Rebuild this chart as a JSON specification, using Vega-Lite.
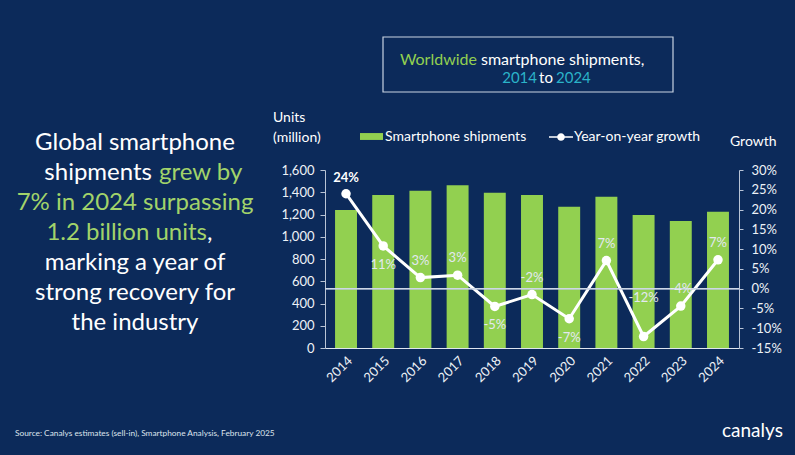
{
  "$schema": "https://vega.github.io/schema/vega-lite/v6.json",
  "autosize": "none",
  "width": 414,
  "height": 178,
  "padding": {"left": 325, "top": 170, "right": 56, "bottom": 107},
  "background": "#0c2a5a",
  "config": {
    "font": "Lato",
    "view": {"stroke": null},
    "axis": {"labelFont": "Lato", "labelColor": "#eef2f7", "labelFontSize": 13, "domainColor": "#b9c4d6", "tickColor": "#b9c4d6", "grid": false}
  },
  "datasets": {
    "ship": [
      {"year": "2014", "units": 1241, "growth": 24.0, "label": "24%", "pos": "bold"},
      {"year": "2015", "units": 1375, "growth": 10.8, "label": "11%", "pos": "below"},
      {"year": "2016", "units": 1414, "growth": 2.8, "label": "3%", "pos": "above"},
      {"year": "2017", "units": 1462, "growth": 3.4, "label": "3%", "pos": "above"},
      {"year": "2018", "units": 1396, "growth": -4.5, "label": "-5%", "pos": "below"},
      {"year": "2019", "units": 1375, "growth": -1.5, "label": "-2%", "pos": "above"},
      {"year": "2020", "units": 1270, "growth": -7.6, "label": "-7%", "pos": "below"},
      {"year": "2021", "units": 1360, "growth": 7.1, "label": "7%", "pos": "above"},
      {"year": "2022", "units": 1195, "growth": -12.1, "label": "-12%", "pos": "high"},
      {"year": "2023", "units": 1142, "growth": -4.4, "label": "-4%", "pos": "above"},
      {"year": "2024", "units": 1225, "growth": 7.3, "label": "7%", "pos": "above"}
    ]
  },
  "layer": [
    {
      "data": {"name": "ship"},
      "mark": {"type": "bar", "color": "#92d050"},
      "encoding": {
        "x": {
          "field": "year", "type": "ordinal", "title": null,
          "scale": {"paddingInner": 0.41, "paddingOuter": 0.27},
          "axis": {"title": null, "labelAngle": -45, "ticks": false, "labelPadding": 6, "domainColor": "#dfe5ee", "labelFontSize": 13}
        },
        "y": {"field": "units", "type": "quantitative", "scale": {"domain": [0, 1600]},
          "axis": {"title": null, "orient": "left", "values": [0, 200, 400, 600, 800, 1000, 1200, 1400, 1600], "format": ",.0f", "tickSize": 5, "labelPadding": 6}},
        "fill": {"datum": "Smartphone shipments", "type": "nominal", "scale": {"range": ["#92d050"]},
          "legend": {"title": null, "orient": "none", "legendX": 35, "legendY": -45, "symbolType": "M-1,-0.3H1V0.3H-1Z", "symbolSize": 529, "symbolStrokeWidth": 0, "labelColor": "#ffffff", "labelFontSize": 14, "labelFont": "Lato", "labelOffset": 2}}
      }
    },
    {
      "data": {"name": "ship"},
      "encoding": {
        "x": {"field": "year", "type": "ordinal", "title": null}
      },
      "layer": [
        {
          "mark": {"type": "line", "strokeWidth": 3},
          "encoding": {
            "y": {"field": "growth", "type": "quantitative", "title": null, "scale": {"domain": [-15, 30]},
              "axis": {"title": null, "orient": "right", "values": [-15, -10, -5, 0, 5, 10, 15, 20, 25, 30], "labelExpr": "datum.value + '%'", "tickSize": 4, "labelPadding": 8}},
            "stroke": {"datum": "Year-on-year growth", "type": "nominal", "scale": {"range": ["#ffffff"]},
              "legend": {"title": null, "orient": "none", "legendX": 224, "legendY": -45, "symbolType": "M-1,-0.07H1V0.07H-1Z M0.32,0A0.32,0.32 0 1 1 -0.32,0A0.32,0.32 0 1 1 0.32,0Z", "symbolSize": 576, "symbolFillColor": "#ffffff", "symbolStrokeWidth": 0, "labelColor": "#ffffff", "labelFontSize": 14, "labelFont": "Lato", "labelOffset": 1}}
          }
        },
        {
          "mark": {"type": "rule", "color": "#cfd8e6", "strokeWidth": 1, "opacity": 0.6},
          "encoding": {"y": {"datum": 0, "type": "quantitative", "title": null,
              "axis": {"title": null, "orient": "right", "values": [-15, -10, -5, 0, 5, 10, 15, 20, 25, 30], "labelExpr": "datum.value + '%'", "tickSize": 4, "labelPadding": 8}},
            "x": {"value": 0}, "x2": {"value": 414}}
        },
        {
          "mark": {"type": "point", "filled": true, "color": "#ffffff", "size": 90, "opacity": 1},
          "encoding": {"y": {"field": "growth", "type": "quantitative", "title": null,
              "axis": {"title": null, "orient": "right", "values": [-15, -10, -5, 0, 5, 10, 15, 20, 25, 30], "labelExpr": "datum.value + '%'", "tickSize": 4, "labelPadding": 8}}}
        },
        {
          "transform": [{"filter": "datum.pos === 'above'"}],
          "mark": {"type": "text", "dy": -17, "fontSize": 13, "color": "#e3e8f0"},
          "encoding": {"y": {"field": "growth", "type": "quantitative", "title": null,
              "axis": {"title": null, "orient": "right", "values": [-15, -10, -5, 0, 5, 10, 15, 20, 25, 30], "labelExpr": "datum.value + '%'", "tickSize": 4, "labelPadding": 8}}, "text": {"field": "label"}}
        },
        {
          "transform": [{"filter": "datum.pos === 'below'"}],
          "mark": {"type": "text", "dy": 19, "fontSize": 13, "color": "#e3e8f0"},
          "encoding": {"y": {"field": "growth", "type": "quantitative", "title": null,
              "axis": {"title": null, "orient": "right", "values": [-15, -10, -5, 0, 5, 10, 15, 20, 25, 30], "labelExpr": "datum.value + '%'", "tickSize": 4, "labelPadding": 8}}, "text": {"field": "label"}}
        },
        {
          "transform": [{"filter": "datum.pos === 'high'"}],
          "mark": {"type": "text", "dy": -39, "fontSize": 13, "color": "#e3e8f0"},
          "encoding": {"y": {"field": "growth", "type": "quantitative", "title": null,
              "axis": {"title": null, "orient": "right", "values": [-15, -10, -5, 0, 5, 10, 15, 20, 25, 30], "labelExpr": "datum.value + '%'", "tickSize": 4, "labelPadding": 8}}, "text": {"field": "label"}}
        },
        {
          "transform": [{"filter": "datum.pos === 'bold'"}],
          "mark": {"type": "text", "dy": -16, "fontSize": 13, "fontWeight": "bold", "color": "#ffffff"},
          "encoding": {"y": {"field": "growth", "type": "quantitative", "title": null,
              "axis": {"title": null, "orient": "right", "values": [-15, -10, -5, 0, 5, 10, 15, 20, 25, 30], "labelExpr": "datum.value + '%'", "tickSize": 4, "labelPadding": 8}}, "text": {"field": "label"}}
        }
      ]
    },
    {
      "data": {"values": [{"t": ["Units", "(million)"]}]},
      "mark": {"type": "text", "x": -52, "y": -52, "align": "left", "baseline": "middle", "fontSize": 14, "lineHeight": 20, "color": "#ffffff"},
      "encoding": {"text": {"field": "t"}}
    },
    {
      "data": {"values": [{"t": "Growth"}]},
      "mark": {"type": "text", "x": 405, "y": -28, "align": "left", "baseline": "middle", "fontSize": 14, "color": "#ffffff"},
      "encoding": {"text": {"field": "t"}}
    },
    {
      "data": {"values": [{"t": ""}]},
      "mark": {"type": "rect", "x": 58, "x2": 348, "y": -133, "y2": -78, "fill": null, "stroke": "#c9d3e2", "strokeWidth": 1.2},
      "encoding": {}
    },
    {
      "data": {"values": [{"t": "Worldwide"}]},
      "mark": {"type": "text", "x": 152, "y": -110, "align": "right", "baseline": "middle", "fontSize": 16, "color": "#92d050"},
      "encoding": {"text": {"field": "t"}}
    },
    {
      "data": {"values": [{"t": "smartphone shipments,"}]},
      "mark": {"type": "text", "x": 156, "y": -110, "align": "left", "baseline": "middle", "fontSize": 16, "color": "#ffffff"},
      "encoding": {"text": {"field": "t"}}
    },
    {
      "data": {"values": [{"t": "2014"}]},
      "mark": {"type": "text", "x": 212, "y": -92, "align": "right", "baseline": "middle", "fontSize": 15, "color": "#2bb3c9"},
      "encoding": {"text": {"field": "t"}}
    },
    {
      "data": {"values": [{"t": "to"}]},
      "mark": {"type": "text", "x": 221, "y": -92, "align": "center", "baseline": "middle", "fontSize": 15, "color": "#ffffff"},
      "encoding": {"text": {"field": "t"}}
    },
    {
      "data": {"values": [{"t": "2024"}]},
      "mark": {"type": "text", "x": 231, "y": -92, "align": "left", "baseline": "middle", "fontSize": 15, "color": "#2bb3c9"},
      "encoding": {"text": {"field": "t"}}
    },
    {
      "data": {"values": [{"t": "Global smartphone"}]},
      "mark": {"type": "text", "x": -190, "y": -27, "align": "center", "baseline": "middle", "fontSize": 24, "color": "#ffffff"},
      "encoding": {"text": {"field": "t"}}
    },
    {
      "data": {"values": [{"t": "shipments"}]},
      "mark": {"type": "text", "x": -173, "y": 3, "align": "right", "baseline": "middle", "fontSize": 24, "color": "#ffffff"},
      "encoding": {"text": {"field": "t"}}
    },
    {
      "data": {"values": [{"t": "grew by"}]},
      "mark": {"type": "text", "x": -166, "y": 3, "align": "left", "baseline": "middle", "fontSize": 24, "color": "#a2d36a"},
      "encoding": {"text": {"field": "t"}}
    },
    {
      "data": {"values": [{"t": "7% in 2024 surpassing"}]},
      "mark": {"type": "text", "x": -190, "y": 33, "align": "center", "baseline": "middle", "fontSize": 24, "color": "#a2d36a"},
      "encoding": {"text": {"field": "t"}}
    },
    {
      "data": {"values": [{"t": "1.2 billion units"}]},
      "mark": {"type": "text", "x": -118, "y": 63, "align": "right", "baseline": "middle", "fontSize": 24, "color": "#a2d36a"},
      "encoding": {"text": {"field": "t"}}
    },
    {
      "data": {"values": [{"t": ","}]},
      "mark": {"type": "text", "x": -118, "y": 63, "align": "left", "baseline": "middle", "fontSize": 24, "color": "#ffffff"},
      "encoding": {"text": {"field": "t"}}
    },
    {
      "data": {"values": [{"t": ["marking a year of", "strong recovery for", "the industry"]}]},
      "mark": {"type": "text", "x": -190, "y": 93, "align": "center", "baseline": "middle", "fontSize": 24, "lineHeight": 30, "color": "#ffffff"},
      "encoding": {"text": {"field": "t"}}
    },
    {
      "data": {"values": [{"t": "Source: Canalys estimates (sell-in), Smartphone Analysis, February 2025"}]},
      "mark": {"type": "text", "x": -310, "y": 264, "align": "left", "baseline": "middle", "fontSize": 8.3, "color": "#dde3ec"},
      "encoding": {"text": {"field": "t"}}
    },
    {
      "data": {"values": [{"t": "canalys"}]},
      "mark": {"type": "text", "x": 397, "y": 261, "align": "left", "baseline": "middle", "fontSize": 19, "color": "#ffffff"},
      "encoding": {"text": {"field": "t"}}
    }
  ],
  "resolve": {"scale": {"y": "independent"}}
}
